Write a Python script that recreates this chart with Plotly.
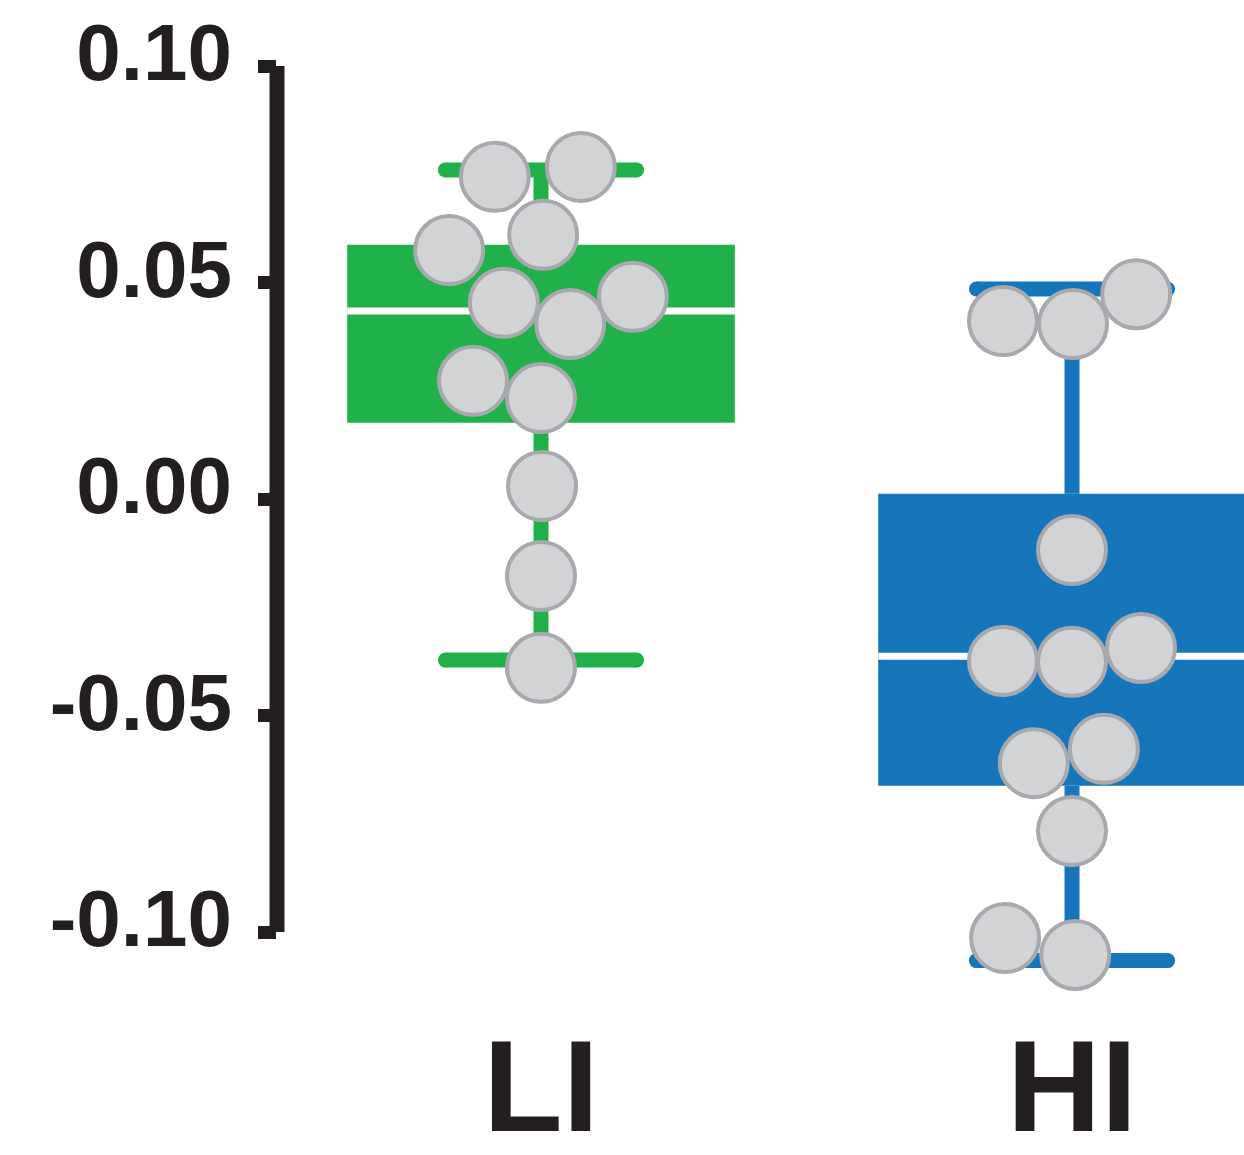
import plotly.graph_objects as go

# ---------------- data ----------------
groups = ["LI", "HI"]
box_colors = ["#21b14b", "#1576bc"]
q1 = [0.0176, -0.0662]
median = [0.0434, -0.0363]
q3 = [0.0587, 0.0012]
lower_whisker = [-0.0372, -0.1066]
upper_whisker = [0.0760, 0.0485]

li_values = [0.0744, 0.0767, 0.0575, 0.0610, 0.0453, 0.0467, 0.0404, 0.0273, 0.0233, 0.0030, -0.0178, -0.0390]
li_offsets = [-0.087, 0.075, -0.173, 0.004, -0.070, 0.173, 0.055, -0.128, 0.0, 0.002, 0.0, 0.0]
hi_values = [0.0411, 0.0404, 0.0473, -0.0118, -0.0374, -0.0376, -0.0344, -0.0610, -0.0577, -0.0767, -0.1014, -0.1053]
hi_offsets = [-0.130, 0.002, 0.121, 0.0, -0.130, 0.0, 0.130, -0.072, 0.060, 0.0, -0.126, 0.006]

y_ticks = [-0.10, -0.05, 0.0, 0.05, 0.10]
y_tick_labels = ["-0.10", "-0.05", "0.00", "0.05", "0.10"]

# ---------------- style ----------------
INK = "#231f20"
PT_FILL = "#d1d3d4"
PT_EDGE = "#a7a9ac"
BOX_W = 0.73
CAP_HALF = 0.18
X_RANGE = [-0.4972, 1.3239]
Y_RANGE = [-0.115704, 0.115242]
W, H = 1244, 1155
ML, MR, MT, MB = 277, 0, 0, 155
TICKLEN = 18
px_per_x = (W - ML - MR) / (X_RANGE[1] - X_RANGE[0])

fig = go.Figure()

# boxes (bars from q1 to q3)
fig.add_trace(go.Bar(
    x=list(range(len(groups))),
    y=[b - a for a, b in zip(q1, q3)],
    base=q1,
    width=BOX_W,
    marker=dict(color=box_colors, line=dict(width=0)),
    hoverinfo="skip", showlegend=False,
))

# whiskers and caps
for i, g in enumerate(groups):
    xs = [i, i, None, i, i, None,
          i - CAP_HALF, i + CAP_HALF, None, i - CAP_HALF, i + CAP_HALF]
    ys = [upper_whisker[i], q3[i], None, q1[i], lower_whisker[i], None,
          upper_whisker[i], upper_whisker[i], None, lower_whisker[i], lower_whisker[i]]
    fig.add_trace(go.Scatter(x=xs, y=ys, mode="lines",
                             line=dict(color=box_colors[i], width=15),
                             hoverinfo="skip", showlegend=False))
    # rounded cap ends
    fig.add_trace(go.Scatter(
        x=[i - CAP_HALF, i + CAP_HALF, i - CAP_HALF, i + CAP_HALF],
        y=[upper_whisker[i], upper_whisker[i], lower_whisker[i], lower_whisker[i]],
        mode="markers", marker=dict(color=box_colors[i], size=15, line=dict(width=0)),
        hoverinfo="skip", showlegend=False))
    # median line
    fig.add_trace(go.Scatter(x=[i - BOX_W / 2, i + BOX_W / 2], y=[median[i], median[i]],
                             mode="lines", line=dict(color="white", width=7),
                             hoverinfo="skip", showlegend=False, cliponaxis=True))

# data points
for i, (vals, offs) in enumerate([(li_values, li_offsets), (hi_values, hi_offsets)]):
    fig.add_trace(go.Scatter(
        x=[i + o for o in offs], y=vals, mode="markers",
        marker=dict(size=68, color=PT_FILL, line=dict(color=PT_EDGE, width=4)),
        cliponaxis=False, hoverinfo="skip", showlegend=False))

# rounded ends of y ticks
fig.add_trace(go.Scatter(
    x=[X_RANGE[0] - TICKLEN / px_per_x] * len(y_ticks), y=y_ticks, mode="markers",
    marker=dict(size=13, color=INK, line=dict(width=0)),
    cliponaxis=False, hoverinfo="skip", showlegend=False))

fig.update_layout(
    width=W, height=H, autosize=False,
    margin=dict(l=ML, r=MR, t=MT, b=MB, pad=0),
    paper_bgcolor="white", plot_bgcolor="white",
    showlegend=False,
    shapes=[dict(type="line", xref="paper", yref="y", x0=0, x1=0,
                 y0=min(y_ticks), y1=max(y_ticks),
                 line=dict(color=INK, width=15), layer="above")],
    xaxis=dict(range=X_RANGE, tickmode="array", tickvals=list(range(len(groups))),
               ticktext=groups, ticks="", showline=False, showgrid=False, zeroline=False,
               tickfont=dict(family="Liberation Sans, Arial, sans-serif", size=130,
                             weight="bold", color=INK),
               ticklabelstandoff=0, automargin=False, fixedrange=True),
    yaxis=dict(range=Y_RANGE, tickmode="array", tickvals=y_ticks, ticktext=y_tick_labels,
               ticks="outside", ticklen=TICKLEN, tickwidth=13, tickcolor=INK,
               showline=False, showgrid=False, zeroline=False,
               tickfont=dict(family="Liberation Sans, Arial, sans-serif", size=80,
                             weight="bold", color=INK),
               ticklabelstandoff=10, ticklabelshift=-14, automargin=False, fixedrange=True),
)

fig.write_html("out.html")
